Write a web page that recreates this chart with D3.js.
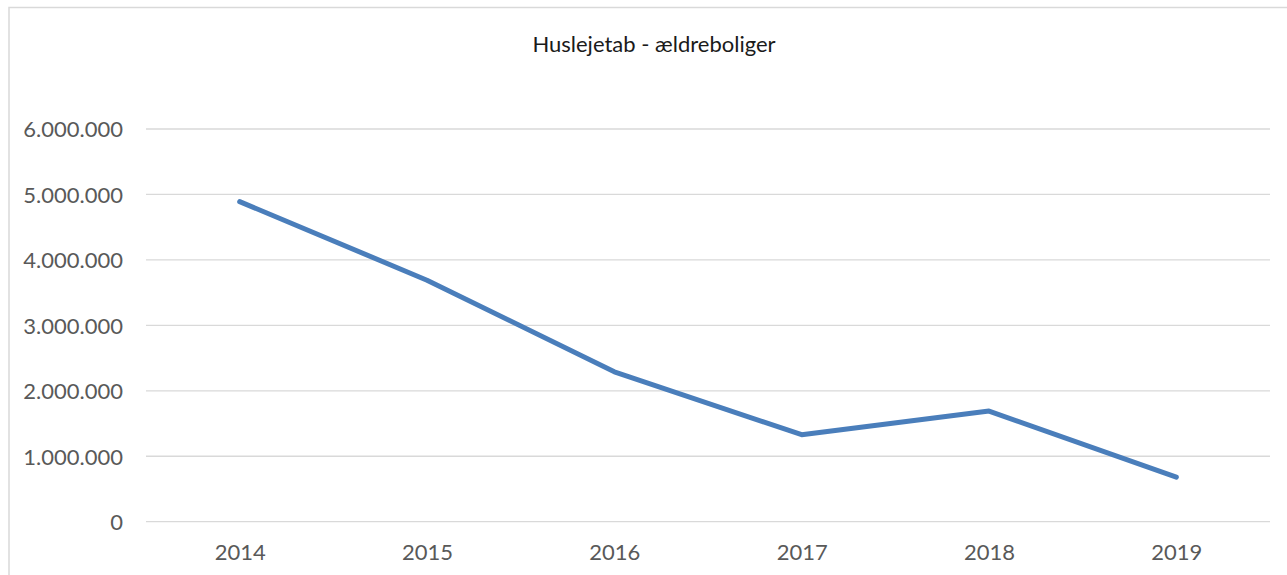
<!DOCTYPE html>
<html>
<head>
<meta charset="utf-8">
<script src="https://cdn.jsdelivr.net/npm/d3@7"></script>
<style>
  html, body { margin: 0; padding: 0; background: #fff; }
  svg { display: block; }
</style>
</head>
<body>
<svg id="chart" width="1287" height="575"></svg>
<script>
const title = "Huslejetab - ældreboliger";
const years = ["2014", "2015", "2016", "2017", "2018", "2019"];
const values = [4890000, 3690000, 2290000, 1330000, 1690000, 680000];
const yTicks = [0, 1000000, 2000000, 3000000, 4000000, 5000000, 6000000];

const svg = d3.select("#chart");
const plot = { left: 146, right: 1270, top: 129, bottom: 521.7 };
const font = "Lato, 'Open Sans', sans-serif";

// chart border
svg.append("rect")
  .attr("x", 9).attr("y", 7.5)
  .attr("width", 1300).attr("height", 600)
  .attr("fill", "#fff")
  .attr("stroke", "#d9d9d9").attr("stroke-width", 1.5);

const x = d3.scalePoint().domain(years).range([plot.left, plot.right]).padding(0.5);
const y = d3.scaleLinear().domain([0, 6000000]).range([plot.bottom, plot.top]);

const fmt = v => d3.format(",")(v).replace(/,/g, ".");

// gridlines
svg.append("g").selectAll("line").data(yTicks).join("line")
  .attr("x1", plot.left).attr("x2", plot.right)
  .attr("y1", d => y(d)).attr("y2", d => y(d))
  .attr("stroke", "#d9d9d9").attr("stroke-width", 1.3);

// y axis labels
const yAxis = d3.axisLeft(y).tickValues(yTicks).tickFormat(fmt).tickSize(0).tickPadding(0);
const gy = svg.append("g").attr("transform", `translate(123,0)`).call(yAxis);
gy.select(".domain").remove();
gy.selectAll("text")
  .attr("font-family", font).attr("font-size", 22).attr("fill", "#595959")
  .attr("dy", "0.36em");

// x axis labels
const xAxis = d3.axisBottom(x).tickSize(0).tickPadding(0);
const gx = svg.append("g").attr("transform", `translate(0,${plot.bottom + 22.5})`).call(xAxis);
gx.select(".domain").remove();
gx.selectAll("text")
  .attr("font-family", font).attr("font-size", 22).attr("fill", "#595959")
  .attr("dy", "0.71em");

// line
const line = d3.line().x((d, i) => x(years[i])).y(d => y(d));
svg.append("path")
  .datum(values)
  .attr("d", line)
  .attr("fill", "none")
  .attr("stroke", "#4a7ebb")
  .attr("stroke-width", 5)
  .attr("stroke-linejoin", "round")
  .attr("stroke-linecap", "round");

// title
svg.append("text")
  .attr("x", 654).attr("y", 52)
  .attr("text-anchor", "middle")
  .attr("font-family", font).attr("font-size", 22).attr("fill", "#1a1a1a")
  .text(title);
</script>
</body>
</html>
